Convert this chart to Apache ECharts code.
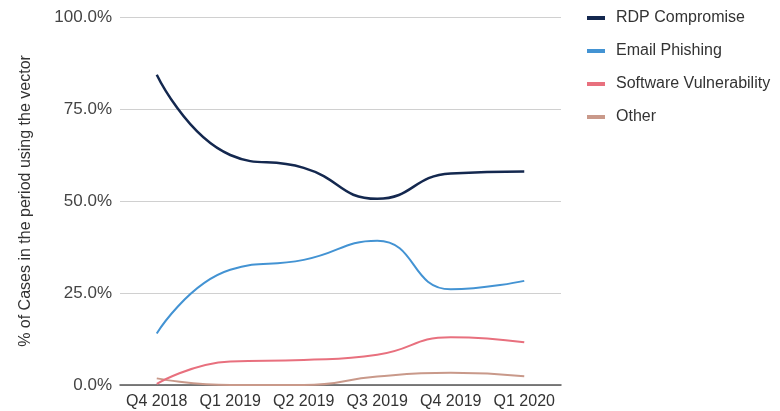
<!DOCTYPE html>
<html>
<head>
<meta charset="utf-8">
<script src="https://cdn.jsdelivr.net/npm/echarts@6/dist/echarts.min.js"></script>
<style>
  html, body { margin: 0; padding: 0; background: #fff; }
  #chart { width: 780px; height: 411px; }
</style>
</head>
<body>
<div id="chart"></div>
<script>
// quarters on the x axis
var quarters = ['Q4 2018', 'Q1 2019', 'Q2 2019', 'Q3 2019', 'Q4 2019', 'Q1 2020'];

// share of cases per vector (%)
var rdpCompromise = [84.3, 62.5, 59.0, 50.6, 57.5, 58.0];
var emailPhishing = [14.0, 31.3, 34.0, 39.2, 26.0, 28.3];
var softwareVuln = [0.3, 6.4, 6.8, 8.2, 13.0, 11.6];
var otherVector = [1.8, 0.0, 0.0, 2.3, 3.3, 2.4];

var yTicks = [0, 25, 50, 75, 100];

var seriesNames = ['RDP Compromise', 'Email Phishing', 'Software Vulnerability', 'Other'];
var seriesColors = ['#14284f', '#4393d3', '#e8707e', '#c9998a'];
var seriesData = [rdpCompromise, emailPhishing, softwareVuln, otherVector];

var chart = echarts.init(document.getElementById('chart'), null, { renderer: 'canvas' });

var series = [];
for (var i = 0; i < seriesNames.length; i++) {
  series.push({
    name: seriesNames[i],
    type: 'line',
    smooth: 0.5,
    symbol: 'none',
    data: seriesData[i],
    z: 10 - i,
    lineStyle: { color: seriesColors[i], width: i === 0 ? 2.5 : 2 },
    itemStyle: { color: seriesColors[i] }
  });
}

chart.setOption({
  animation: false,
  textStyle: { fontFamily: 'Liberation Sans, Arial, sans-serif' },
  grid: { left: 120, right: 219, top: 17, bottom: 26 },
  legend: {
    orient: 'vertical',
    left: 582,
    top: 5,
    itemGap: 17,
    itemWidth: 18,
    itemHeight: 4,
    icon: 'rect',
    data: seriesNames,
    textStyle: { fontSize: 16, color: '#333', padding: [0, 0, 0, 6] }
  },
  xAxis: {
    type: 'category',
    data: quarters,
    boundaryGap: true,
    axisLine: { lineStyle: { color: '#555', width: 1.5 } },
    axisTick: { show: false },
    axisLabel: { fontSize: 16, color: '#333', margin: 9, interval: 0 }
  },
  yAxis: {
    type: 'value',
    min: yTicks[0],
    max: yTicks[yTicks.length - 1],
    interval: 25,
    name: '% of Cases in the period using the vector',
    nameLocation: 'middle',
    nameGap: 86,
    nameTextStyle: { fontSize: 16, color: '#333' },
    axisLine: { show: false },
    axisTick: { show: false },
    axisLabel: {
      fontSize: 17,
      color: '#444',
      margin: 8,
      formatter: function (v) { return v.toFixed(1) + '%'; }
    },
    splitLine: { lineStyle: { color: '#d0d0d0', width: 1 } }
  },
  series: series
});
</script>
</body>
</html>
